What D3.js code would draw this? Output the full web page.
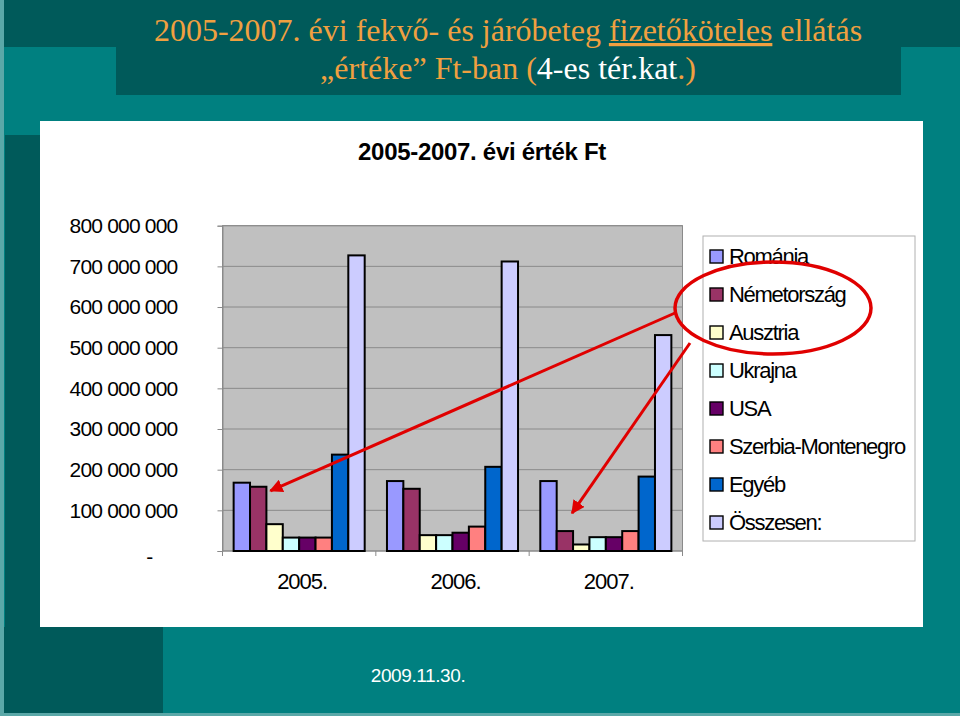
<!DOCTYPE html>
<html>
<head>
<meta charset="utf-8">
<script src="https://cdn.jsdelivr.net/npm/d3@7"></script>
<style>
  body { margin: 0; background: #008080; }
  svg { display: block; }
  .ax text { font-family: "Liberation Sans", Arial, sans-serif; }
</style>
</head>
<body>
<div id="slide"></div>
<script>
// data
var categories = ["2005.", "2006.", "2007."];
var series = ["Románia", "Németország", "Ausztria", "Ukrajna", "USA",
              "Szerbia-Montenegro", "Egyéb", "Összesen:"];
var colors = ["#9999ff", "#993366", "#ffffcc", "#ccffff", "#660066",
              "#ff8080", "#0066cc", "#ccccff"];
// Ft values per year, same order as series
var values2005 = [168e6, 158e6, 66e6, 33e6, 33e6, 33e6, 237e6, 727e6];
var values2006 = [172e6, 153e6, 39e6, 39e6, 45e6, 60e6, 207e6, 712e6];
var values2007 = [172e6, 49e6, 16e6, 34e6, 34e6, 49e6, 183e6, 531e6];
var yearValues = [values2005, values2006, values2007];
var yTicks = [0, 100e6, 200e6, 300e6, 400e6, 500e6, 600e6, 700e6, 800e6];

var W = 960, H = 716;
var teal = "#008080", dark = "#005a5a";

var svg = d3.select("#slide").append("svg")
  .attr("width", W).attr("height", H);

// slide background
svg.append("rect").attr("width", W).attr("height", H).attr("fill", teal);
svg.append("rect").attr("width", W).attr("height", 47).attr("fill", dark);
svg.append("rect").attr("x", 5).attr("y", 135).attr("width", 35).attr("height", 492).attr("fill", dark);
svg.append("rect").attr("x", 0).attr("y", 627).attr("width", 163).attr("height", 89).attr("fill", dark);
svg.append("rect").attr("x", 0).attr("y", 0).attr("width", 4).attr("height", H).attr("fill", "#5aa8a8");
svg.append("rect").attr("x", 0).attr("y", 713).attr("width", W).attr("height", 3).attr("fill", "#5aa8a8");
svg.append("rect").attr("x", 116).attr("y", 0).attr("width", 785).attr("height", 95).attr("fill", dark);

// slide title
var title = svg.append("g")
  .attr("font-family", "'Liberation Serif', 'Times New Roman', serif")
  .attr("font-size", 32).attr("fill", "#f0a040").attr("text-anchor", "middle");
var t1 = title.append("text").attr("x", 508).attr("y", 41);
t1.append("tspan").text("2005-2007. évi fekvő- és járóbeteg ");
t1.append("tspan").attr("text-decoration", "underline").text("fizetőköteles");
t1.append("tspan").text(" ellátás");
var t2 = title.append("text").attr("x", 508).attr("y", 79);
t2.append("tspan").text("„értéke” Ft-ban (");
t2.append("tspan").attr("fill", "#ffffff").text("4-es tér.kat");
t2.append("tspan").text(".)");

// chart panel
svg.append("rect").attr("x", 40).attr("y", 121).attr("width", 883).attr("height", 506)
  .attr("fill", "#ffffff");

svg.append("text")
  .attr("x", 482).attr("y", 160).attr("text-anchor", "middle")
  .attr("font-family", "'Liberation Sans', Arial, sans-serif")
  .attr("font-size", 24).attr("font-weight", "bold").attr("letter-spacing", -0.3)
  .text("2005-2007. évi érték Ft");

// scales
var plot = {left: 222.5, right: 682.5, top: 225.7, bottom: 551};

var x0 = d3.scaleBand()
  .domain(categories)
  .range([plot.left, plot.right]);

var x1 = d3.scaleBand()
  .domain(series)
  .range([0, x0.bandwidth()])
  .paddingOuter(0.68);

var y = d3.scaleLinear()
  .domain([0, 800e6])
  .range([plot.bottom, plot.top]);

// plot area
svg.append("rect")
  .attr("x", plot.left).attr("y", plot.top)
  .attr("width", plot.right - plot.left).attr("height", plot.bottom - plot.top)
  .attr("fill", "#c0c0c0").attr("stroke", "#8a8a8a");

// gridlines
svg.append("g").selectAll("line")
  .data(yTicks.slice(1))
  .enter().append("line")
  .attr("x1", plot.left).attr("x2", plot.right)
  .attr("y1", function(d) { return y(d); })
  .attr("y2", function(d) { return y(d); })
  .attr("stroke", "#8a8a8a");

// y axis
var fmt = function(d) { return d === 0 ? "-" : d3.format(",")(d).replace(/,/g, " "); };
var yAxis = svg.append("g")
  .attr("class", "ax")
  .attr("transform", "translate(" + plot.left + ",0)")
  .call(d3.axisLeft(y).tickValues(yTicks).tickSize(5).tickPadding(40).tickFormat(fmt));
yAxis.select(".domain").attr("stroke", "#8a8a8a");
yAxis.selectAll(".tick line").attr("stroke", "#8a8a8a");
yAxis.selectAll(".tick text")
  .attr("font-size", 21).attr("letter-spacing", -0.8).attr("fill", "#000");
yAxis.selectAll(".tick text").filter(function(d) { return d === 0; })
  .attr("dx", -25).attr("dy", "0.6em");

// x axis
svg.append("line")
  .attr("x1", plot.left).attr("x2", plot.right)
  .attr("y1", plot.bottom).attr("y2", plot.bottom)
  .attr("stroke", "#8a8a8a");
var bounds = categories.map(function(c) { return x0(c); }).concat([plot.right]);
svg.append("g").selectAll("line")
  .data(bounds)
  .enter().append("line")
  .attr("x1", function(d) { return d; }).attr("x2", function(d) { return d; })
  .attr("y1", plot.bottom).attr("y2", plot.bottom + 5)
  .attr("stroke", "#8a8a8a");

svg.append("g").selectAll("text")
  .data(categories)
  .enter().append("text")
  .attr("x", function(d) { return x0(d) + x0.bandwidth() / 2 + 3; })
  .attr("y", 589)
  .attr("text-anchor", "middle")
  .attr("font-family", "'Liberation Sans', Arial, sans-serif")
  .attr("font-size", 22).attr("letter-spacing", -1)
  .text(function(d) { return d; });

// bars
var groups = svg.append("g").selectAll("g")
  .data(categories)
  .enter().append("g")
  .attr("transform", function(d) { return "translate(" + x0(d) + ",0)"; });

groups.selectAll("rect")
  .data(function(d, i) {
    return series.map(function(s, j) { return {key: s, value: yearValues[i][j], color: colors[j]}; });
  })
  .enter().append("rect")
  .attr("x", function(d) { return x1(d.key); })
  .attr("y", function(d) { return y(d.value); })
  .attr("width", x1.bandwidth())
  .attr("height", function(d) { return y(0) - y(d.value); })
  .attr("fill", function(d) { return d.color; })
  .attr("stroke", "#000").attr("stroke-width", 2);

// legend
var legend = svg.append("g");
legend.append("rect")
  .attr("x", 703).attr("y", 236).attr("width", 212).attr("height", 305)
  .attr("fill", "#fff").attr("stroke", "#b0b0b0");

var items = legend.selectAll(".item")
  .data(series)
  .enter().append("g")
  .attr("transform", function(d, i) { return "translate(710," + (250 + i * 38) + ")"; });
items.append("rect")
  .attr("width", 13).attr("height", 13)
  .attr("fill", function(d, i) { return colors[i]; })
  .attr("stroke", "#000").attr("stroke-width", 1.4);
items.append("text")
  .attr("x", 19).attr("y", 13.5)
  .attr("font-family", "'Liberation Sans', Arial, sans-serif")
  .attr("font-size", 22).attr("letter-spacing", -1.3)
  .text(function(d) { return d; });

// red annotation: ellipse round Németország/Ausztria, arrows to their bars
var red = "#e00000";
svg.append("defs").append("marker")
  .attr("id", "head")
  .attr("viewBox", "0 0 10 10").attr("refX", 9).attr("refY", 5)
  .attr("markerWidth", 4.5).attr("markerHeight", 4.5)
  .attr("orient", "auto")
  .append("path").attr("d", "M0,0L10,5L0,10Z").attr("fill", red);

svg.append("ellipse")
  .attr("cx", 773).attr("cy", 308).attr("rx", 98).attr("ry", 46)
  .attr("fill", "none").attr("stroke", red).attr("stroke-width", 3.5);

var nemet = series[1];
var arrows = [
  {from: [675, 313], to: [x0(categories[0]) + x1(nemet) + x1.bandwidth() + 4, y(values2005[1]) + 4]},
  {from: [690, 343], to: [x0(categories[2]) + x1(nemet) + x1.bandwidth() - 1, y(values2007[1]) - 18]}
];
svg.append("g").selectAll("line")
  .data(arrows)
  .enter().append("line")
  .attr("x1", function(d) { return d.from[0]; })
  .attr("y1", function(d) { return d.from[1]; })
  .attr("x2", function(d) { return d.to[0]; })
  .attr("y2", function(d) { return d.to[1]; })
  .attr("stroke", red).attr("stroke-width", 3)
  .attr("marker-end", "url(#head)");

// footer
svg.append("text")
  .attr("x", 418).attr("y", 682).attr("text-anchor", "middle")
  .attr("font-family", "'Liberation Sans', Arial, sans-serif")
  .attr("font-size", 19).attr("letter-spacing", -0.4).attr("fill", "#fff")
  .text("2009.11.30.");
</script>
</body>
</html>
